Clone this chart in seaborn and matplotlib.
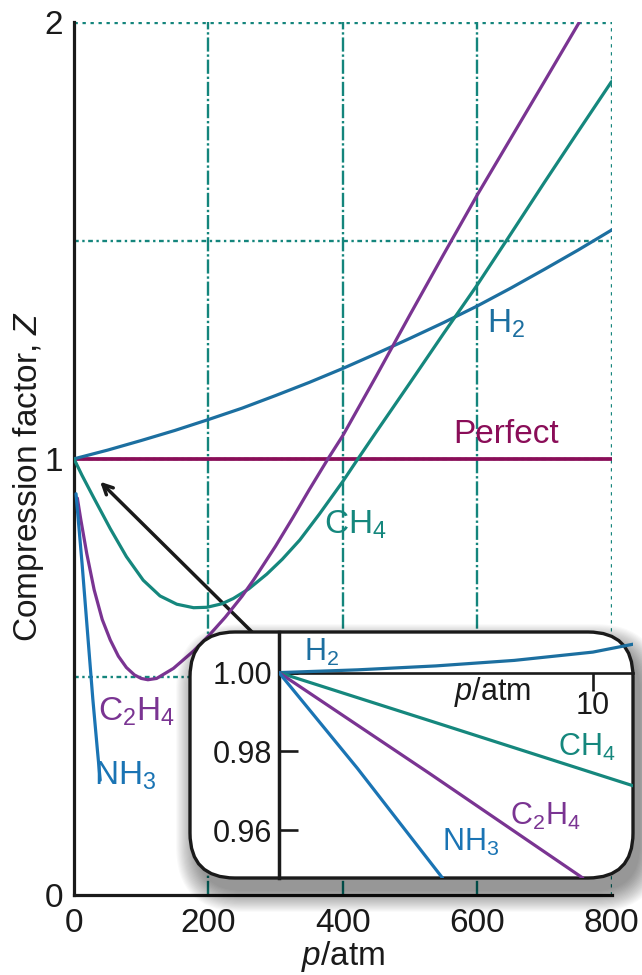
import numpy as np
import pandas as pd
import matplotlib
matplotlib.use("Agg")
import matplotlib.pyplot as plt
from matplotlib.patches import FancyBboxPatch
import seaborn as sns

# ---------------- data ----------------
h2_p = [0, 50, 100, 150, 200, 250, 300, 350, 400, 450, 500, 550, 600, 650, 700, 750, 800]
h2_z = [1.0, 1.02, 1.042, 1.065, 1.09, 1.116, 1.145, 1.175, 1.207, 1.241, 1.276, 1.312,
        1.35, 1.391, 1.434, 1.478, 1.524]

ch4_p = [0, 12, 29, 54, 78, 103, 128, 153, 178, 198, 220, 237, 260, 287, 310, 336, 365,
         400, 420, 450, 500, 550, 600, 650, 700, 750, 800]
ch4_z = [1.0, 0.962, 0.912, 0.840, 0.776, 0.722, 0.686, 0.667, 0.659, 0.66, 0.668, 0.680,
         0.702, 0.736, 0.770, 0.814, 0.873, 0.948, 0.994, 1.062, 1.174, 1.287, 1.398,
         1.515, 1.633, 1.749, 1.864]

c2h4_p = [5, 10, 19, 30, 42, 54, 66, 78, 90, 100, 110, 123, 148, 178, 200, 225, 250, 267,
          300, 326, 350, 378, 400, 450, 500, 550, 600, 650, 700, 752]
c2h4_z = [0.91, 0.862, 0.783, 0.700, 0.632, 0.585, 0.548, 0.522, 0.505, 0.497, 0.494,
          0.497, 0.52, 0.560, 0.594, 0.637, 0.685, 0.722, 0.800, 0.866, 0.929, 1.0, 1.053,
          1.19, 1.33, 1.468, 1.604, 1.734, 1.864, 2.0]

nh3_p = [3, 12, 20, 28, 35, 39]
nh3_z = [0.92, 0.76, 0.605, 0.45, 0.33, 0.264]

perfect_p = [0, 800]
perfect_z = [1.0, 1.0]

# inset (low pressure)
in_h2_p = [0, 2.5, 5, 7.5, 10, 11.28]
in_h2_z = [1.0, 1.0007, 1.0017, 1.0031, 1.0052, 1.0072]
in_ch4_p = [0, 5, 11.28]
in_ch4_z = [1.0, 0.9873, 0.9713]
in_c2h4_p = [0, 4.8, 9.68]
in_c2h4_z = [1.0, 0.9744, 0.9479]
in_nh3_p = [0, 2.5, 5.21]
in_nh3_z = [1.0, 0.9757, 0.9479]

main_xticks = [0, 200, 400, 600, 800]
main_yticks = [0, 1, 2]
inset_yticks = [0.96, 0.98, 1.00]
inset_yticklabels = ["0.96", "0.98", "1.00"]
inset_xticks = [10]

# ---------------- style ----------------
sns.set_style("white")
plt.rcParams["font.family"] = ["Liberation Sans", "DejaVu Sans"]
plt.rcParams["mathtext.fontset"] = "custom"
plt.rcParams["mathtext.rm"] = "Liberation Sans"
plt.rcParams["mathtext.it"] = "Liberation Sans:italic"

C_H2 = "#1c6fa0"
C_NH3 = "#1a74b4"
C_CH4 = "#15877d"
C_C2H4 = "#7a3492"
C_PERF = "#8a0d58"
C_GRID = "#14857c"
INK = "#1a1a1a"
LW = 2.3
FS = 24
FSL = 24
FSI = 22

fig = plt.figure(figsize=(6.42, 9.75), dpi=100)
W, H = 642, 975
ax = fig.add_axes([74 / W, 1 - 895.4 / H, (611.5 - 74) / W, (895.4 - 22.3) / H])
ax.set_xlim(0, 800)
ax.set_ylim(0, 2)

# grid lines
for gx in [200, 400, 600]:
    ax.axvline(gx, color=C_GRID, lw=1.7, ls=(0, (6, 1.2, 1, 1.2)), zorder=1)
ax.axvline(800, color=C_GRID, lw=2.4, ls=(0, (1, 1.4)), zorder=1)
for gy in [0.5, 1.0, 1.5]:
    ax.axhline(gy, color=C_GRID, lw=1.7, ls=(0, (2, 1.5, 1, 1.5)), zorder=1)
ax.axhline(2.0, color=C_GRID, lw=2.4, ls=(0, (1, 1.4)), zorder=1)

def line(axx, x, y, c, lw=LW):
    sns.lineplot(x=x, y=y, ax=axx, color=c, lw=lw, sort=False, estimator=None,
                 legend=False, zorder=3, clip_on=True)

line(ax, perfect_p, perfect_z, C_PERF, 2.7)
line(ax, h2_p, h2_z, C_H2)
line(ax, ch4_p, ch4_z, C_CH4)
line(ax, c2h4_p, c2h4_z, C_C2H4)
line(ax, nh3_p, nh3_z, C_NH3)

# arrow from inset towards the origin region
ax.annotate("", xy=(36, 0.952), xytext=(300, 0.55),
            arrowprops=dict(arrowstyle="->,head_length=0.7,head_width=0.35",
                            color=INK, lw=2.5), zorder=2)

# labels on main plot
ax.text(643, 1.31, r"$\mathregular{H_2}$", color=C_H2, fontsize=FSL, ha="center", va="center")
ax.text(643, 1.055, "Perfect", color=C_PERF, fontsize=FSL, ha="center", va="center")
ax.text(419, 0.85, r"$\mathregular{CH_4}$", color=C_CH4, fontsize=FSL, ha="center", va="center")
ax.text(93, 0.42, r"$\mathregular{C_2H_4}$", color=C_C2H4, fontsize=FSL, ha="center", va="center")
ax.text(76, 0.275, r"$\mathregular{NH_3}$", color=C_NH3, fontsize=FSL, ha="center", va="center")

ax.set_xticks(main_xticks)
ax.set_xticklabels([str(v) for v in main_xticks])
ax.set_yticks(main_yticks)
ax.set_yticklabels([str(v) for v in main_yticks])
ax.tick_params(axis="both", length=0, labelsize=FS, colors=INK)
ax.tick_params(axis="x", pad=9)
ax.tick_params(axis="y", pad=8)
for s in ["top", "right"]:
    ax.spines[s].set_visible(False)
for s in ["left", "bottom"]:
    ax.spines[s].set_color(INK)
    ax.spines[s].set_linewidth(2.3)
ax.set_xlabel(r"$\mathit{p}$/atm", fontsize=FS, labelpad=0, color=INK)
ax.set_ylabel(r"Compression factor, $\mathit{Z}$", fontsize=FS, color=INK)
ax.yaxis.set_label_coords(-0.052, 0.48)

# ---------------- inset box with soft shadow ----------------
bx0, by0, bw, bh = 1.90, (975 - 878) / 100, 4.43, 2.46
rad = 0.45
for i in range(20):
    grow = 0.011 * i
    sh = FancyBboxPatch((bx0 + 0.07 - grow, by0 - 0.13 - grow), bw + 2 * grow, bh + 2 * grow,
                        boxstyle=f"round,pad=0,rounding_size={rad + grow}",
                        transform=fig.dpi_scale_trans, facecolor="black", edgecolor="none",
                        alpha=0.022, zorder=1)
    fig.patches.append(sh)
box = FancyBboxPatch((bx0, by0), bw, bh, boxstyle=f"round,pad=0,rounding_size={rad}",
                     transform=fig.dpi_scale_trans, facecolor="white", edgecolor=INK,
                     lw=2.4, zorder=2)
fig.patches.append(box)

ax2 = fig.add_axes([279 / W, 1 - 878 / H, (633 - 279) / W, (878 - 632) / H], zorder=5)
ax2.patch.set_visible(False)
ax2.set_xlim(0, 11.28)
ax2.set_ylim(0.9479, 1.0103)

line(ax2, in_h2_p, in_h2_z, C_H2)
line(ax2, in_ch4_p, in_ch4_z, C_CH4)
line(ax2, in_c2h4_p, in_c2h4_z, C_C2H4)
line(ax2, in_nh3_p, in_nh3_z, C_NH3)

for s in ["top", "right"]:
    ax2.spines[s].set_visible(False)
ax2.spines["left"].set_linewidth(2.5)
ax2.spines["left"].set_color(INK)
ax2.spines["bottom"].set_position(("data", 1.0))
ax2.spines["bottom"].set_linewidth(1.9)
ax2.spines["bottom"].set_color(INK)

ax2.set_yticks(inset_yticks)
ax2.set_yticklabels(inset_yticklabels)
ax2.set_xticks(inset_xticks)
ax2.set_xticklabels([str(v) for v in inset_xticks])
ax2.tick_params(axis="y", direction="in", length=14, width=1.9, labelsize=FSI, pad=5,
                colors=INK, left=True)
ax2.tick_params(axis="x", direction="out", length=13, width=1.9, labelsize=FSI, pad=0,
                colors=INK, bottom=True)
ax2.set_xlabel("")
ax2.set_ylabel("")
ax2.text(6.8, 0.9951, r"$\mathit{p}$/atm", fontsize=FSI, ha="center", va="center", color=INK)

ax2.text(1.35, 1.0052, r"$\mathregular{H_2}$", color=C_H2, fontsize=FSI, ha="center", va="center")
ax2.text(9.8, 0.981, r"$\mathregular{CH_4}$", color=C_CH4, fontsize=FSI, ha="center", va="center")
ax2.text(8.5, 0.9635, r"$\mathregular{C_2H_4}$", color=C_C2H4, fontsize=FSI, ha="center", va="center")
ax2.text(6.1, 0.957, r"$\mathregular{NH_3}$", color=C_NH3, fontsize=FSI, ha="center", va="center")

fig.savefig("out.png", dpi=100)
